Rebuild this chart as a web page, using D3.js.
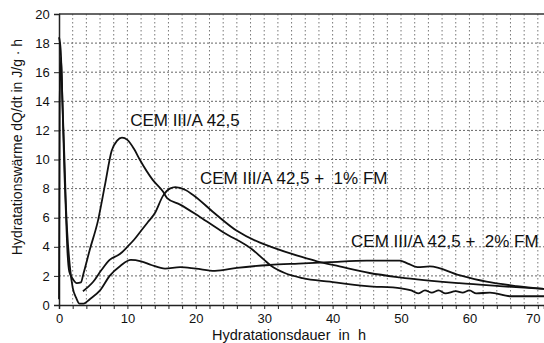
<!DOCTYPE html>
<html>
<head>
<meta charset="utf-8">
<script src="https://cdn.jsdelivr.net/npm/d3@7"></script>
<style>
body { margin: 0; background: #fff; }
svg text { font-family: "Liberation Sans", Arial, sans-serif; fill: #111; }
</style>
</head>
<body>
<svg id="chart" width="544" height="343"></svg>
<script>
// Hydratationswärme curves as [h, dQ/dt]
var cem = [[0,18.4],[0.25,17.5],[0.5,14],[0.8,9],[1.0,6.5],[1.2,4],[1.5,2.3],[2,1.8],[2.6,1.5],[3.2,1.55],[3.6,2.2],[4.5,3.8],[5.7,5.8],[6.7,8.2],[7.7,10.6],[8.5,11.3],[9.2,11.5],[10,11.35],[11,10.7],[11.8,10],[13.7,8.6],[15.2,7.8],[15.8,7.35],[17.7,6.9],[20.6,6.05],[24,5],[28.3,3.8],[30,3.1],[31,2.7],[33,2.2],[35.6,1.85],[39.6,1.6],[45,1.3],[50,1.15],[51.5,1.0],[52.5,0.8],[53.5,1.0],[54.5,0.85],[55.5,1.0],[56.5,0.8],[58,0.95],[59,0.85],[60,1.0],[61,0.8],[63,0.85],[66,0.6],[71,0.6]];
var fm1 = [[3.5,0.95],[5,1.6],[6.2,2.4],[7.4,3.1],[8.9,3.5],[10,4.0],[11,4.5],[12,5.1],[13,5.7],[14,6.3],[15.2,7.5],[16.2,8.0],[17,8.1],[18.5,7.9],[19.5,7.6],[23,6.2],[26,5.1],[29.3,4.3],[31,4.0],[35.5,3.3],[37.7,3.0],[41,2.65],[45.4,2.2],[49.8,1.9],[58.5,1.5],[64.4,1.3],[71,1.1]];
var fm2 = [[0,0.4],[0.1,14],[0.3,17],[0.5,14],[0.8,10],[1.0,7],[1.2,5],[1.6,2.6],[2,1.2],[2.5,0.5],[3.0,0.1],[3.6,0.1],[4.5,0.4],[6,1.0],[7.4,2.0],[9,2.7],[10.5,3.1],[12,3.0],[13.5,2.75],[15.5,2.5],[17.7,2.6],[20,2.5],[22.8,2.35],[26,2.55],[30.8,2.75],[35,2.85],[39.6,2.95],[45,3.05],[49.8,3.05],[51,2.85],[52.4,2.6],[54.2,2.65],[58.5,2.05],[62.5,1.6],[66.9,1.3],[71,1.1]];

var seriesNames = ["CEM III/A 42,5", "CEM III/A 42,5 +  1% FM", "CEM III/A 42,5 +  2% FM"];
var xTicks = [0, 10, 20, 30, 40, 50, 60, 70];
var yTicks = [0, 2, 4, 6, 8, 10, 12, 14, 16, 18, 20];

var svg = d3.select("#chart");

var x = d3.scaleLinear().domain([0, 70.9]).range([59, 544]);
var y = d3.scaleLinear().domain([0, 20]).range([305, 14]);

// dotted grid every 2 units
var grid = svg.append("g").attr("class", "grid");
grid.selectAll(".gx")
    .data(d3.range(2, 71, 2))
  .enter().append("line")
    .attr("x1", function(d) { return x(d); })
    .attr("x2", function(d) { return x(d); })
    .attr("y1", y(20))
    .attr("y2", y(0))
    .attr("stroke", "#777")
    .attr("stroke-width", 1)
    .attr("stroke-dasharray", "1.5,2.5");
grid.selectAll(".gy")
    .data(yTicks.slice(1, -1))
  .enter().append("line")
    .attr("x1", x(0))
    .attr("x2", 544)
    .attr("y1", function(d) { return y(d); })
    .attr("y2", function(d) { return y(d); })
    .attr("stroke", "#666")
    .attr("stroke-width", 1)
    .attr("stroke-dasharray", "2,2");

// top border
svg.append("line")
    .attr("x1", x(0)).attr("x2", 544)
    .attr("y1", y(20)).attr("y2", y(20))
    .attr("stroke", "#333").attr("stroke-width", 1.5);

// axes
var xAxis = svg.append("g")
    .attr("transform", "translate(0," + y(0) + ")")
    .call(d3.axisBottom(x).tickValues(d3.range(0, 71, 2)).tickSize(4)
          .tickFormat(function(d) { return xTicks.indexOf(d) >= 0 ? d : ""; }));
xAxis.select(".domain").attr("stroke", "#222").attr("stroke-width", 1.5);
xAxis.selectAll(".tick line").attr("stroke", "#222");
xAxis.selectAll("text")
    .attr("font-size", 13)
    .attr("y", 18)
    .attr("dy", 0)
    .attr("dx", function(d) { return d === 70 ? -5 : 0; });

var yAxis = svg.append("g")
    .attr("transform", "translate(" + x(0) + ",0)")
    .call(d3.axisLeft(y).tickValues(yTicks).tickSize(5));
yAxis.select(".domain").attr("stroke", "#222").attr("stroke-width", 1.5);
yAxis.selectAll(".tick line").attr("stroke", "#222");
yAxis.selectAll("text").attr("font-size", 13).attr("dx", "-0.1em");

// curves
var line = d3.line()
    .x(function(d) { return x(d[0]); })
    .y(function(d) { return y(d[1]); })
    .curve(d3.curveMonotoneX);

[cem, fm1, fm2].forEach(function(s) {
  svg.append("path")
      .datum(s)
      .attr("d", line)
      .attr("fill", "none")
      .attr("stroke", "#111")
      .attr("stroke-width", 1.8);
});

// curve labels
var labelPos = [[10.4, 12.3], [20.6, 8.3], [42.7, 4.0]];
svg.selectAll(".lbl")
    .data(seriesNames)
  .enter().append("text")
    .attr("x", function(d, i) { return x(labelPos[i][0]); })
    .attr("y", function(d, i) { return y(labelPos[i][1]); })
    .attr("font-size", 17)
    .attr("xml:space", "preserve")
    .style("white-space", "pre")
    .text(function(d) { return d; });

// axis titles
svg.append("text")
    .attr("x", 289).attr("y", 340)
    .attr("text-anchor", "middle")
    .attr("font-size", 14.5)
    .style("white-space", "pre")
    .text("Hydratationsdauer  in  h");

svg.append("text")
    .attr("transform", "translate(22,147) rotate(-90)")
    .attr("text-anchor", "middle")
    .attr("font-size", 14)
    .text("Hydratationswärme dQ/dt in J/g · h");
</script>
</body>
</html>
